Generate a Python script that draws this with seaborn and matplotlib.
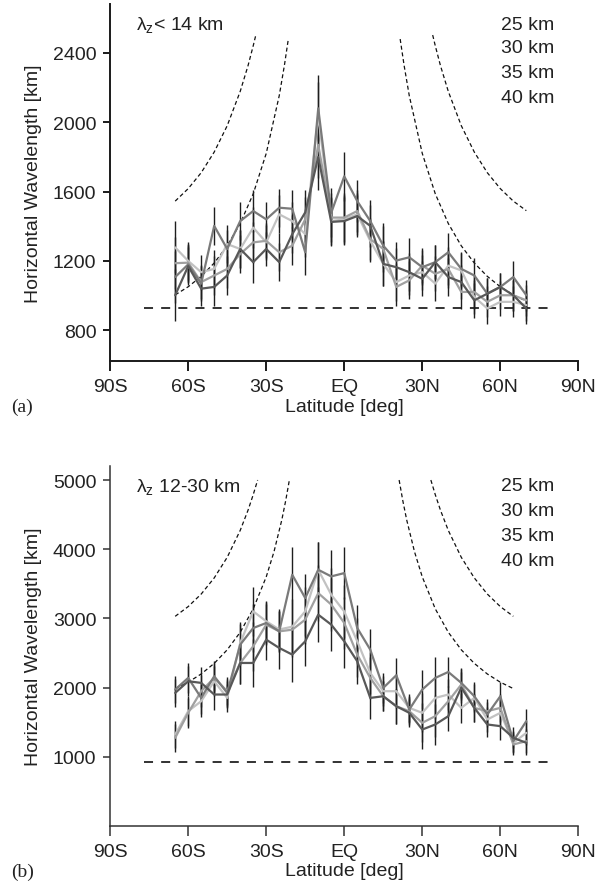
import matplotlib
matplotlib.use("Agg")
import matplotlib.pyplot as plt
import numpy as np
import pandas as pd
import seaborn as sns

# ---------------- data ----------------
lat = [-65, -60, -55, -50, -45, -40, -35, -30, -25, -20, -15, -10, -5, 0,
       5, 10, 15, 20, 25, 30, 35, 40, 45, 50, 55, 60, 65, 70]
series_names = ["25 km", "30 km", "35 km", "40 km"]

# panel (a): lambda_z < 14 km
a25 = [1278, 1200, 1135, 1154, 1297, 1269, 1392, 1307, 1469, 1430, 1354, 2040, 1430, 1440,
       1469, 1316, 1183, 1078, 1116, 1135, 1069, 1173, 1145, 992, 926, 964, 964, 945]
a30 = [1187, 1190, 1078, 1116, 1154, 1240, 1307, 1316, 1250, 1288, 1440, 1870, 1450, 1450,
       1488, 1326, 1269, 1050, 1088, 1173, 1126, 1154, 1021, 1021, 964, 1002, 1002, 973]
a35 = [1107, 1180, 1069, 1402, 1269, 1430, 1488, 1440, 1507, 1501, 1250, 2080, 1478, 1688,
       1545, 1430, 1288, 1202, 1221, 1164, 1193, 1250, 1154, 1116, 1011, 1050, 1107, 1002]
a40 = [1002, 1170, 1040, 1050, 1116, 1269, 1193, 1269, 1193, 1354, 1480, 1800, 1425, 1430,
       1459, 1402, 1183, 1164, 1135, 1097, 1193, 1107, 1078, 973, 1011, 1050, 1002, 926]
err_a = [150, 110, 100, 110, 110, 110, 120, 100, 110, 110, 130, 190, 140, 140,
         120, 120, 130, 110, 110, 100, 100, 110, 100, 100, 90, 80, 90, 90]

# panel (b): lambda_z 12-30 km
b25 = [1322, 1659, 1803, 2092, 1851, 2645, 3102, 2958, 2840, 2880, 3102, 3703, 3342, 3100,
       2669, 2212, 1948, 1948, 1707, 1635, 1851, 1900, 1707, 1851, 1539, 1635, 1202, 1346]
b30 = [1274, 1635, 1948, 2140, 1948, 2356, 2597, 2910, 2813, 2837, 2982, 3366, 3200, 2934,
       2477, 2140, 1875, 1731, 1659, 1491, 1587, 1803, 2044, 1707, 1659, 1707, 1178, 1226]
b35 = [1972, 2140, 1851, 2164, 1923, 2621, 2861, 2934, 2813, 3631, 3294, 3703, 3607, 3655,
       2861, 2549, 1996, 2178, 1683, 1972, 2140, 2226, 2068, 1875, 1611, 1875, 1226, 1515]
b40 = [1923, 2092, 2068, 1900, 1900, 2356, 2356, 2693, 2573, 2477, 2669, 3054, 2910, 2669,
       2380, 1851, 1875, 1731, 1635, 1394, 1467, 1587, 2000, 1707, 1467, 1443, 1274, 1202]
err_b = [200, 220, 230, 220, 200, 300, 350, 300, 300, 400, 350, 400, 380, 380,
         330, 300, 220, 250, 200, 280, 300, 220, 220, 200, 180, 200, 150, 170]

# dashed reference curves
ca_inL_lat = [-65, -60, -55, -50, -45, -40, -35, -30, -25, -23, -21.5]
ca_inL_val = [1004, 1051, 1111, 1188, 1287, 1416, 1587, 1820, 2153, 2329, 2480]
ca_outL_lat = [-65, -60, -55, -50, -45, -40, -37, -35, -34]
ca_outL_val = [1545, 1617, 1709, 1828, 1980, 2178, 2326, 2441, 2503]
ca_inR_lat = [21.5, 23, 25, 30, 35, 40, 45, 50, 55, 60, 65, 70]
ca_inR_val = [2480, 2329, 2153, 1820, 1587, 1416, 1287, 1188, 1111, 1051, 1004, 968]
ca_outR_lat = [34, 35, 37, 40, 45, 50, 55, 60, 65, 70]
ca_outR_val = [2503, 2441, 2326, 2178, 1980, 1828, 1709, 1617, 1545, 1490]

cb_inL_lat = [-65, -60, -55, -50, -45, -40, -35, -30, -27, -24, -22.5, -21.1]
cb_inL_val = [1986, 2078, 2197, 2350, 2546, 2800, 3138, 3600, 3965, 4425, 4704, 5000]
cb_outL_lat = [-65, -60, -55, -50, -45, -40, -37, -35, -33.3]
cb_outL_val = [3030, 3171, 3352, 3585, 3883, 4272, 4563, 4788, 5000]
cb_inR_lat = [21.1, 22.5, 24, 27, 30, 35, 40, 45, 50, 55, 60, 65]
cb_inR_val = [5000, 4704, 4425, 3965, 3600, 3138, 2800, 2546, 2350, 2197, 2078, 1986]
cb_outR_lat = [33.3, 35, 37, 40, 45, 50, 55, 60, 65]
cb_outR_val = [5000, 4788, 4563, 4272, 3883, 3585, 3352, 3171, 3030]

hline_lat = [-77, 80]
hline_val = [930, 930]

xtick_vals = [-90, -60, -30, 0, 30, 60, 90]
xtick_labels = ["90S", "60S", "30S", "EQ", "30N", "60N", "90N"]
ytick_a = [800, 1200, 1600, 2000, 2400]
ytick_b = [1000, 2000, 3000, 4000, 5000]

# ---------------- style ----------------
sns.set_theme(style="ticks")
plt.rcParams["font.family"] = ["Liberation Sans", "DejaVu Sans"]
plt.rcParams["mathtext.fontset"] = "custom"
plt.rcParams["mathtext.rm"] = "Liberation Sans"
plt.rcParams["mathtext.it"] = "Liberation Sans:italic"
plt.rcParams["mathtext.bf"] = "Liberation Sans:bold"

palette = {"25 km": "#c2c2c2", "30 km": "#a0a0a0", "35 km": "#7a7a7a", "40 km": "#585858"}
FS = 14

fig = plt.figure(figsize=(6.12, 8.95), dpi=100)
ax1 = fig.add_axes([0.180, 0.595, 0.765, 0.399])
ax2 = fig.add_axes([0.180, 0.076, 0.765, 0.402])


def draw_panel(ax, vals, err, curves, ylim, yticks, title_txt, spine_lw, spine_col):
    df = pd.DataFrame({
        "lat": lat * 4,
        "val": sum(vals, []),
        "alt": sum([[n] * len(lat) for n in series_names], []),
    })
    for v in vals:
        ax.errorbar(lat, v, yerr=err, fmt="none", ecolor="#1e1e1e",
                    elinewidth=1.0, capsize=0, zorder=2)
    sns.lineplot(data=df, x="lat", y="val", hue="alt", palette=palette,
                 hue_order=series_names, estimator=None, sort=False,
                 linewidth=1.6, legend=False, ax=ax, zorder=3)
    for clat, cval in curves:
        ax.plot(clat, cval, color="#111111", lw=0.9, ls=(0, (3.2, 2.2)), zorder=1)
    ax.plot(hline_lat, hline_val, color="#222222", lw=1.3, ls=(0, (5, 4.5)), zorder=1)

    ax.set_xlim(-90, 90)
    ax.set_ylim(*ylim)
    ax.set_xticks(xtick_vals)
    ax.set_xticklabels(xtick_labels)
    ax.set_yticks(yticks)
    ax.tick_params(axis="both", labelsize=FS, colors="#222222", width=spine_lw,
                   color=spine_col)
    ax.tick_params(axis="x", length=7, pad=5)
    ax.tick_params(axis="y", length=5, pad=5)
    ax.set_xlabel("Latitude [deg]", fontsize=FS, color="#222222", labelpad=2)
    ax.set_ylabel("Horizontal Wavelength [km]", fontsize=FS, color="#222222", labelpad=8)
    sns.despine(ax=ax)
    for sp in ("left", "bottom"):
        ax.spines[sp].set_color(spine_col)
        ax.spines[sp].set_linewidth(spine_lw)

    ax.text(0.055, 0.945, title_txt, transform=ax.transAxes, fontsize=FS,
            ha="left", va="center", color="#222222")
    ys = [0.945, 0.878, 0.808, 0.738]
    for name, yy in zip(series_names, ys):
        ax.text(0.835, yy, name, transform=ax.transAxes, fontsize=FS,
                ha="left", va="center", color="#222222")


draw_panel(ax1, [a25, a30, a35, a40], err_a,
           [(ca_inL_lat, ca_inL_val), (ca_outL_lat, ca_outL_val),
            (ca_inR_lat, ca_inR_val), (ca_outR_lat, ca_outR_val)],
           (620, 2680), ytick_a, "λ$_{\\mathrm{z}}$< 14 km", 1.4, "#1a1a1a")
draw_panel(ax2, [b25, b30, b35, b40], err_b,
           [(cb_inL_lat, cb_inL_val), (cb_outL_lat, cb_outL_val),
            (cb_inR_lat, cb_inR_val), (cb_outR_lat, cb_outR_val)],
           (0, 5200), ytick_b, "λ$_{\\mathrm{z}}$ 12-30 km", 1.1, "#333333")

fig.canvas.draw()
for ax, letter in ((ax1, "(a)"), (ax2, "(b)")):
    bb = ax.xaxis.label.get_window_extent()
    yc = (bb.y0 + bb.y1) / 2 / fig.bbox.height
    fig.text(0.018, yc, letter, fontsize=FS, family=["Liberation Serif", "DejaVu Serif"],
             ha="left", va="center", color="#222222")

fig.savefig("out.png", dpi=100)
